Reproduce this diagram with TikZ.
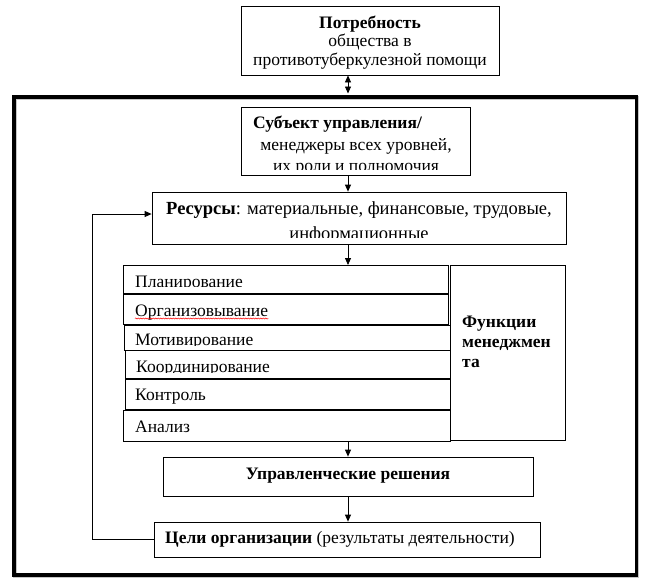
\documentclass[tikz,border=0pt]{standalone}
\usepackage{fontspec}
\setmainfont{Liberation Serif}
\usetikzlibrary{arrows.meta,decorations.pathmorphing}
\begin{document}
\begin{tikzpicture}[x=1pt,y=-1pt,
  box/.style={draw,line width=0.8pt,inner sep=0pt},
  txt/.style={inner sep=0pt,anchor=base,font=\fontsize{17.5pt}{20pt}\selectfont},
  txtl/.style={inner sep=0pt,anchor=base west,font=\fontsize{17.5pt}{20pt}\selectfont},
  txtbig/.style={txt,font=\fontsize{18.5pt}{21pt}\selectfont},
  arr/.style={line width=0.8pt,-{Triangle[length=7pt,width=6pt]}},
  darr/.style={line width=0.8pt,{Triangle[length=7pt,width=6pt]}-{Triangle[length=7pt,width=6pt]}}
]
\useasboundingbox (0,0) rectangle (648,584);
\coordinate (ax) at (348,0);
\coordinate (fb) at (92,214);

% outer frame
\node[draw=gray!45,line width=3.5pt,inner sep=0pt,minimum width=622.5pt,minimum height=478pt] (frameshadow) at (326.25,337) {};
\node[draw,line width=3.5pt,inner sep=0pt,minimum width=622.5pt,minimum height=478pt] (frame) at (325.25,336) {};

% top box
\node[box,minimum width=258pt,minimum height=69pt] (need) at (370,40.5) {};
\node[txt] (need1) at (370,28) {\bfseries Потребность};
\node[txt] (need2) at (370,46.5) {общества в};
\node[txt] (need3) at (370,65) {противотуберкулезной помощи};

% subject box
\node[box,minimum width=229pt,minimum height=68pt] (subj) at (355.5,141) {};
\node[txtl] (subj1) at (253,128) {\bfseries Субъект управления/};
\node[txt] (subj2) at (356,150) {менеджеры всех уровней,};
\begin{scope}
\clip (245,155) rectangle (466,169);
\node[txt] (subj3) at (356,171) {их роли и полномочия};
\end{scope}

% resources box
\node[box,minimum width=414pt,minimum height=52pt] (res) at (359,218) {};
\node[txtbig] (res1) at (359,214) {\textbf{Ресурсы}: материальные, финансовые, трудовые,};
\begin{scope}
\clip (160,222) rectangle (560,237);
\node[txtbig] (res2) at (359,239.5) {информационные};
\end{scope}

% functions
\node[box,minimum width=325pt,minimum height=28pt,anchor=north west] (plan) at (123,265) {};
\node[box,minimum width=325pt,minimum height=30pt,anchor=north west] (org) at (123,294) {};
\node[box,minimum width=326pt,minimum height=25pt,anchor=north west] (mot) at (124,325) {};
\node[box,minimum width=325pt,minimum height=28pt,anchor=north west] (coord) at (125,350) {};
\node[box,minimum width=325pt,minimum height=30pt,anchor=north west] (ctrl) at (125,379) {};
\node[box,minimum width=327pt,minimum height=31pt,anchor=north west] (anal) at (123,410) {};
\node[box,minimum width=115pt,minimum height=175pt,anchor=north west] (func) at (450,265) {};

\begin{scope}
\clip (126,268) rectangle (446,286);
\node[txtl] (plant) at (135,287) {Планирование};
\end{scope}
\node[txtl] (orgt) at (135,316) {Организовывание};
\draw[red,line width=0.5pt,decorate,decoration={snake,amplitude=0.6pt,segment length=2.5pt}]
  ([yshift=-2.5pt]orgt.base west) -- ([yshift=-2.5pt]orgt.base east);
\begin{scope}
\clip (127,327) rectangle (447,345);
\node[txtl] (mott) at (135,345.5) {Мотивирование};
\end{scope}
\begin{scope}
\clip (128,353) rectangle (448,372);
\node[txtl] (coordt) at (136,372.5) {Координирование};
\end{scope}
\node[txtl] (ctrlt) at (135,400) {Контроль};
\node[txtl] (analt) at (135,432) {Анализ};
\node[txtl] (func1) at (462,327) {\bfseries Функции};
\node[txtl] (func2) at (462,347) {\bfseries менеджмен};
\node[txtl] (func3) at (462,367) {\bfseries та};

% decisions
\node[box,minimum width=370pt,minimum height=39pt] (dec) at (348,476.5) {};
\node[txt] (dect) at (348,479) {\bfseries Управленческие решения};

% goals
\node[box,minimum width=386pt,minimum height=35pt] (goals) at (347,539.5) {};
\node[txtl] (goalst) at (165,543) {\textbf{Цели организации} (результаты деятельности)};

% connectors
\draw[darr] (need.south -| ax) -- ([yshift=1.75pt]frame.north -| ax);
\draw[arr] (subj.south -| ax) -- (res.north -| ax);
\draw[arr] (res.south -| ax) -- (plan.north -| ax);
\draw[arr] (anal.south -| ax) -- (dec.north -| ax);
\draw[arr] (dec.south -| ax) -- (goals.north -| ax);
\draw[arr] (goals.west) -| (fb) -- (fb -| res.west);
\end{tikzpicture}
\end{document}
